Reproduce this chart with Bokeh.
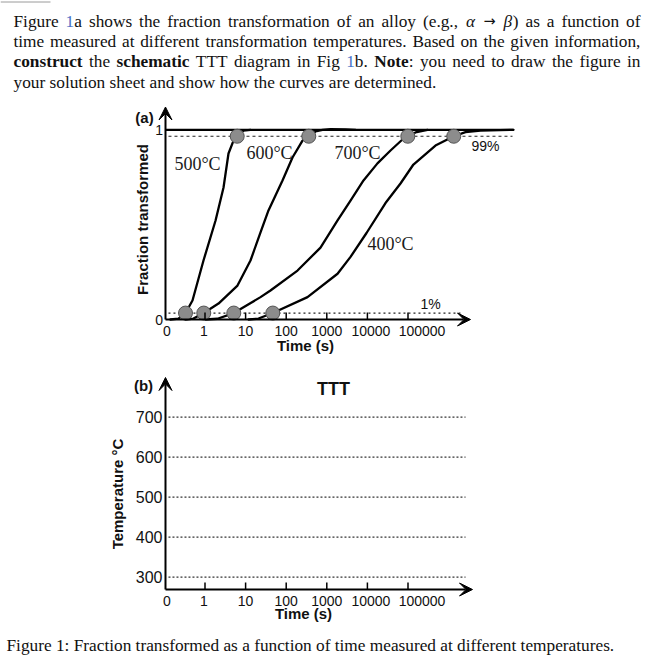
import numpy as np
from bokeh.plotting import figure
from bokeh.models import Range1d, Label, Arrow, VeeHead
from bokeh.core.properties import value
from bokeh.layouts import column
from bokeh.embed import file_html
from bokeh.resources import INLINE

# ---------------- data ----------------
# (a) fraction transformed vs time (s), one curve per temperature
temps = ["500°C", "600°C", "700°C", "400°C"]
t_500 = [0.141, 0.222, 0.331, 0.492, 0.918, 1.82, 2.86, 3.79, 5.04, 6.21, 8.87, 13.2]
f_500 = [0.0, 0.005, 0.034, 0.100, 0.311, 0.522, 0.696, 0.875, 0.943, 0.966, 0.996, 1.0]
t_600 = [0.331, 0.521, 0.933, 2.15, 6.31, 13.2, 23.3, 36.6, 81.1, 143, 252, 360, 527, 783, 1230, 2890, 5090]
f_600 = [0.0, 0.005, 0.034, 0.084, 0.179, 0.311, 0.459, 0.575, 0.733, 0.854, 0.943, 0.966, 0.991, 1.0, 1.004, 1.002, 1.0]
t_700 = [1.03, 2.03, 5.12, 23.3, 41.0, 190, 700, 1840, 3840, 8020, 17700, 37100, 77500, 98900, 153000, 302000]
f_700 = [0.0, 0.004, 0.034, 0.118, 0.153, 0.258, 0.379, 0.522, 0.627, 0.733, 0.823, 0.891, 0.954, 0.966, 0.986, 1.0]
t_400 = [11.8, 20.8, 46.8, 335, 1840, 3840, 9510, 27900, 65300, 136000, 475000, 1.34e6, 2.61e6, 6.11e6, 3.97e7]
f_400 = [0.0, 0.005, 0.034, 0.118, 0.241, 0.330, 0.456, 0.614, 0.717, 0.817, 0.917, 0.966, 0.988, 0.996, 1.0]

# start (1%) and finish (99%) times of each curve
t_start = [0.331, 0.933, 5.12, 46.8]
t_finish = [6.21, 360, 98900, 1.34e6]
level_labels = ["1%", "99%"]
level_fracs = [0.034, 0.966]
level_ends = [2.33e6, 3.75e7]

# axes
X_ORIGIN = 10 ** -0.973          # where the schematic "0" sits on the log time axis
time_ticks = [X_ORIGIN, 1, 10, 100, 1000, 10000, 100000]
time_labels = ["0", "1", "10", "100", "1000", "10000", "100000"]
frac_ticks = [0, 1]
frac_labels = ["0", "1"]
ttt_temps = [300, 400, 500, 600, 700]
ttt_labels = ["300", "400", "500", "600", "700"]
T_AXIS = 269.25                  # temperature at which the (b) time axis is drawn
ttt_line_end = 2.61e6
line_start = 0.126

# ---------------- page-pixel helpers (for placing annotations) ----------------
def px_t(px):
    return 10 ** ((px - 204.5) / 40.6)


def a_y(py):
    return (319 - py) / 189.7


def b_y(py):
    return 300 + (576.7 - py) / 0.4


SERIF = "Liberation Serif"
SANS = "Liberation Sans"
INK = "#111111"
BLUE = "#4a72c8"
label_dx = [1.5, -1, 0, 0, 0, 3.5, 14]   # horizontal nudges of the time tick labels (px)


def lab(p, x, y, text, size, font=SERIF, style="normal", color=INK,
        align="left", baseline="alphabetic", angle=0.0):
    p.add_layout(Label(x=x, y=y, text=text, text_font=font, text_font_size=size,
                       text_font_style=style, text_color=color, text_align=align,
                       text_baseline=baseline, angle=angle))


# Times advance widths (em) used to justify the paragraph
W_REG = dict(zip(" (),.:1BFT", [.25, .333, .333, .25, .25, .278, .5, .667, .556, .611]))
W_REG.update(dict(zip("abcdefghilmnoprstuvwy",
                      [.444, .5, .444, .5, .444, .333, .5, .5, .278, .278, .778, .5, .5, .5,
                       .333, .389, .278, .5, .5, .722, .5])))
W_BOLD = dict(zip("Nacehimnorstu", [.722, .5, .444, .444, .556, .278, .833, .556, .5, .444,
                                    .389, .333, .556]))


def w_em(text, style):
    table = W_BOLD if style == "bold" else W_REG
    return sum(table.get(ch, 0.5) for ch in text)


def R(text, style="normal", color=None, width=None, align="left", font=SERIF, size=None):
    return (text, style, color, width, align, font, size)


def place_line(p, words, base, x0, x1, size, justify=True):
    widths = [[(r[3] if r[3] is not None else w_em(r[0], r[1])) * size for r in wd] for wd in words]
    total = sum(sum(w) for w in widths)
    gap = (x1 - x0 - total) / (len(words) - 1) if justify else 0.25 * size
    x = x0
    for wd, ws in zip(words, widths):
        for (text, style, color, _, align, font, rsize), w in zip(wd, ws):
            if text.strip():
                xx = x + w / 2 if align == "center" else x
                lab(p, px_t(xx), a_y(base), text, f"{rsize or size}px", font=font, style=style,
                    color=color or INK, align=align)
            x += w
        x += gap


def make_fig(height, y_lo, y_hi):
    p = figure(width=660, height=height, x_axis_type="log",
               x_range=Range1d(px_t(0), px_t(660)), y_range=Range1d(y_lo, y_hi),
               output_backend="svg", toolbar_location=None,
               min_border_left=0, min_border_right=0, min_border_top=0, min_border_bottom=0)
    p.outline_line_color = None
    p.xgrid.visible = False
    p.ygrid.visible = False
    p.xaxis.visible = False
    p.yaxis.visible = False
    return p


def time_axis(p, y_axis, tick_len):
    p.segment(x0=time_ticks[1:], y0=[y_axis] * 6, x1=time_ticks[1:], y1=[y_axis + tick_len] * 6,
              line_color="black", line_width=1.5)
    p.text(x=time_ticks, y=[y_axis] * 7, text=time_labels, x_offset=label_dx, y_offset=11.5,
           text_font=value(SANS), text_font_size=value("14px"), text_color=INK,
           text_align="center", text_baseline="middle")


def arrows(p, y_axis, x_tip, y_tip):
    for xe, ye in [(x_tip, y_axis), (X_ORIGIN, y_tip)]:
        p.add_layout(Arrow(end=VeeHead(size=13, fill_color="black", line_color="black"),
                           x_start=X_ORIGIN, y_start=y_axis, x_end=xe, y_end=ye,
                           line_width=2, line_color="black"))


# ---------------- figure (a) + question text ----------------
pa = make_fig(362, a_y(362), a_y(0))

# short rule left over at the very top of the page
pa.line([px_t(0), px_t(50)], [a_y(1.5)] * 2, line_color="#9a9a9a", line_width=1)

pa.line([line_start, level_ends[0]], [level_fracs[0]] * 2, line_color="#222222",
        line_width=1.2, line_dash="2 3")
pa.line([line_start, level_ends[1]], [level_fracs[1]] * 2, line_color="#222222",
        line_width=1.1, line_dash="3 3")
pa.line([X_ORIGIN, t_400[-1]], [1, 1], line_color="black", line_width=2.3)

for t, f in [(t_500, f_500), (t_600, f_600), (t_700, f_700), (t_400, f_400)]:
    pa.line(t, f, line_color="black", line_width=2.3, line_join="round", line_cap="round")

pa.scatter(t_start, [level_fracs[0]] * 4, size=14, fill_color="#8c8c8c",
           line_color="#555555", line_width=1)
pa.scatter(t_finish, [level_fracs[1]] * 4, size=14, fill_color="#8c8c8c",
           line_color="#555555", line_width=1)

time_axis(pa, 0, 7 / 189.7)
pa.text(x=[X_ORIGIN] * 2, y=frac_ticks, text=frac_labels, x_offset=-2.5,
        text_font=value(SANS), text_font_size=value("14px"), text_color=INK,
        text_align="right", text_baseline="middle")
arrows(pa, 0, px_t(470), a_y(106.5))

for text, (px, py) in zip(temps, [(197, 163), (269, 152), (357, 152), (390, 243)]):
    lab(pa, px_t(px), a_y(py), text, "18px", baseline="middle", align="center", color="#1a1a1a")
lab(pa, px_t(430), a_y(303), level_labels[0], "14px", font=SANS, align="center", baseline="middle")
lab(pa, px_t(485), a_y(145), level_labels[1], "14px", font=SANS, align="center", baseline="middle")

lab(pa, px_t(144), a_y(117), "(a)", "15px", font=SANS, style="bold", align="center", baseline="middle")
lab(pa, px_t(141.5), a_y(219), "Fraction transformed", "15px", font=SANS, style="bold",
    align="center", baseline="middle", angle=np.pi / 2)
lab(pa, px_t(305), a_y(345), "Time (s)", "15px", font=SANS, style="bold", align="center", baseline="middle")

# question paragraph (justified between x=13 and x=640)
FS = 17.3
line1 = [[R("Figure")], [R("1", color=BLUE), R("a")], [R("shows")], [R("the")], [R("fraction")],
         [R("transformation")], [R("of")], [R("an")], [R("alloy")], [R("(e.g.,")],
         [R("α", "italic", width=.64, align="center"), R(" ", width=.278),
          R("→", width=1.0, align="center", font="DejaVu Sans", size=14.5), R(" ", width=.278),
          R("β", "italic", width=.566, align="center"), R(")")],
         [R("as")], [R("a")], [R("function")], [R("of")]]
line2 = [[R(w)] for w in "time measured at different transformation temperatures. Based on the given information,".split()]
line3 = [[R("construct", "bold")], [R("the")], [R("schematic", "bold")], [R("TTT")], [R("diagram")],
         [R("in")], [R("Fig")], [R("1", color=BLUE), R("b.")], [R("Note", "bold"), R(":")]] + \
        [[R(w)] for w in "you need to draw the figure in".split()]
line4 = [[R(w)] for w in "your solution sheet and show how the curves are determined.".split()]
place_line(pa, line1, 20.5, 13, 640, FS)
place_line(pa, line2, 41, 13, 640, FS)
place_line(pa, line3, 61, 13, 640, FS)
place_line(pa, line4, 82, 13, 640, FS, justify=False)

# ---------------- figure (b) ----------------
pb = make_fig(306, b_y(668), b_y(362))

for T in ttt_temps:
    pb.line([line_start, ttt_line_end], [T, T], line_color="#333333",
            line_width=1.2, line_dash="2 2")

time_axis(pb, T_AXIS, 7 * 2.5)
pb.text(x=[X_ORIGIN] * 5, y=ttt_temps, text=ttt_labels, x_offset=-3,
        text_font=value(SANS), text_font_size=value("16px"), text_color=INK,
        text_align="right", text_baseline="middle")
arrows(pb, T_AXIS, px_t(472), b_y(377))

lab(pb, px_t(143), b_y(385), "(b)", "15px", font=SANS, style="bold", align="center", baseline="middle")
lab(pb, px_t(333), b_y(388), "TTT", "18px", font=SANS, style="bold", align="center", baseline="middle")
lab(pb, px_t(117), b_y(493.5), "Temperature °C", "15px", font=SANS, style="bold",
    align="center", baseline="middle", angle=np.pi / 2)
lab(pb, px_t(303), b_y(613), "Time (s)", "15px", font=SANS, style="bold", align="center", baseline="middle")
lab(pb, px_t(6), b_y(645), "Figure 1:  Fraction transformed as a function of time measured at different temperatures.",
    "17.3px")

layout = column(pa, pb)
open("out.html", "w").write(file_html(layout, INLINE))
